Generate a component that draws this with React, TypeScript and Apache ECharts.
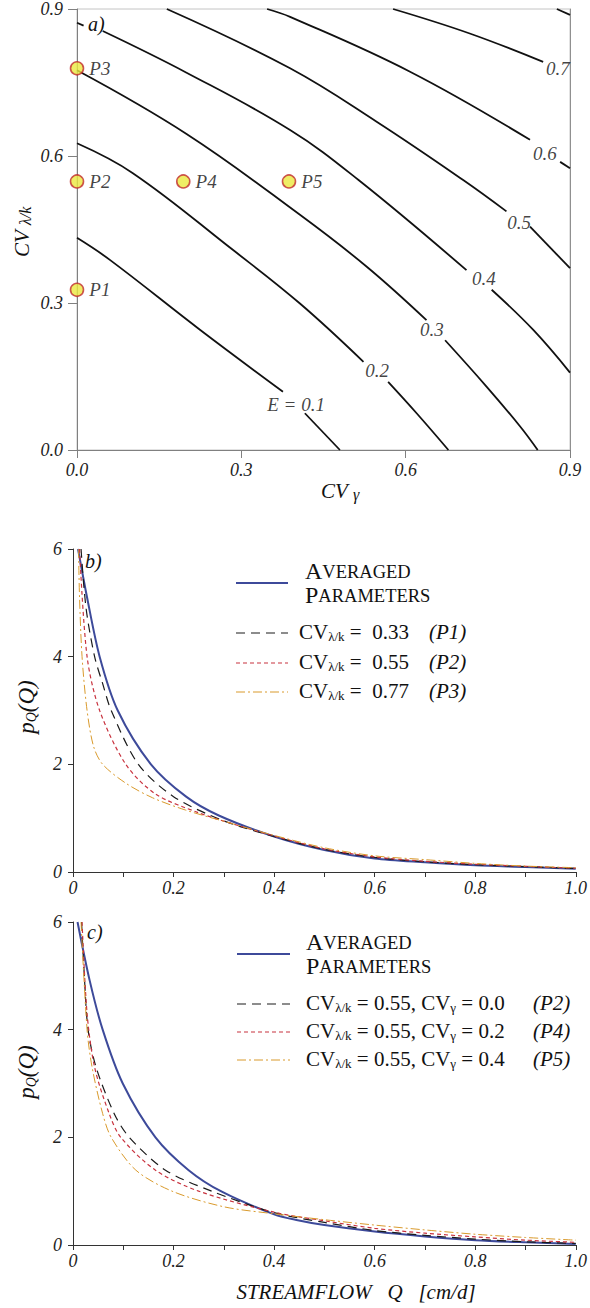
import React, { useEffect, useRef } from 'react';
import * as echarts from 'echarts';

const SERIF = 'Liberation Serif';

// ---------- Panel a: contour lines of E over (CV_gamma, CV_lambda/k) ----------
const contourE01 = [
  [[0, 0.433], [0.06, 0.388], [0.225, 0.245], [0.376, 0.119]],
  [[0.416, 0.075], [0.48, 0]],
];
const contourE02 = [
  [[0, 0.626], [0.102, 0.565], [0.285, 0.408], [0.407, 0.299], [0.523, 0.18]],
  [[0.568, 0.139], [0.62, 0.075], [0.678, 0]],
];
const contourE03 = [
  [[0, 0.775], [0.2, 0.645], [0.407, 0.48], [0.529, 0.374], [0.638, 0.265]],
  [[0.672, 0.224], [0.748, 0.129], [0.809, 0.048], [0.841, 0]],
];
const contourE04 = [
  [[0, 0.872], [0.012, 0.866]],
  [[0.047, 0.855], [0.2, 0.77], [0.389, 0.653], [0.514, 0.551], [0.711, 0.367]],
  [[0.757, 0.327], [0.833, 0.245], [0.9, 0.158]],
];
const contourE05 = [
  [[0.164, 0.9], [0.389, 0.779], [0.547, 0.67], [0.705, 0.551], [0.784, 0.487]],
  [[0.827, 0.456], [0.9, 0.371]],
];
const contourE06 = [
  [[0.347, 0.9], [0.389, 0.884], [0.608, 0.772], [0.827, 0.633]],
  [[0.882, 0.588], [0.9, 0.575]],
];
const contourE07 = [[[0.577, 0.9], [0.717, 0.85], [0.851, 0.792]]];
const contourE08 = [[[0.876, 0.9], [0.9, 0.888]]];

const contourLabelText = ['E = 0.1', '0.2', '0.3', '0.4', '0.5', '0.6', '0.7'];
const contourLabelX = [0.4, 0.548, 0.648, 0.743, 0.807, 0.854, 0.878];
const contourLabelY = [0.092, 0.163, 0.245, 0.349, 0.465, 0.606, 0.778];

const pointNames = ['P1', 'P2', 'P3', 'P4', 'P5'];
const pointCVgamma = [0, 0, 0, 0.194, 0.387];
const pointCVlk = [0.327, 0.548, 0.779, 0.548, 0.548];

// ---------- Panel b: p_Q(Q) for different CV_lambda/k ----------
const bAveraged = [[0.01, 6.0], [0.028, 5.1], [0.053, 4.0], [0.089, 3.0], [0.155, 2.0], [0.225, 1.4], [0.29, 1.05], [0.4, 0.66], [0.5, 0.41], [0.6, 0.25], [0.7, 0.18], [0.8, 0.125], [0.9, 0.094], [1.0, 0.06]];
const bP1 = [[0.016, 6.0], [0.026, 4.9], [0.043, 4.0], [0.059, 3.5], [0.076, 3.0], [0.13, 2.0], [0.2, 1.4], [0.3, 0.95], [0.4, 0.66], [0.5, 0.42], [0.6, 0.27], [0.7, 0.19], [0.8, 0.135], [0.9, 0.1], [1.0, 0.065]];
const bP2 = [[0.013, 6.0], [0.028, 4.0], [0.053, 3.0], [0.105, 2.0], [0.164, 1.45], [0.25, 1.1], [0.33, 0.86], [0.4, 0.67], [0.5, 0.43], [0.6, 0.28], [0.7, 0.2], [0.8, 0.145], [0.9, 0.105], [1.0, 0.07]];
const bP3 = [[0.011, 6.0], [0.013, 5.1], [0.018, 4.0], [0.028, 3.0], [0.041, 2.33], [0.059, 2.0], [0.105, 1.65], [0.158, 1.38], [0.224, 1.15], [0.316, 0.9], [0.4, 0.68], [0.5, 0.45], [0.6, 0.3], [0.7, 0.23], [0.8, 0.16], [0.9, 0.11], [1.0, 0.08]];

// ---------- Panel c: p_Q(Q) for different CV_gamma ----------
const cAveraged = [[0.009, 6.0], [0.033, 4.92], [0.059, 4.0], [0.099, 3.0], [0.164, 2.0], [0.23, 1.39], [0.296, 0.99], [0.4, 0.57], [0.447, 0.46], [0.5, 0.37], [0.6, 0.25], [0.7, 0.16], [0.8, 0.09], [0.9, 0.05], [1.0, 0.02]];
const cP2 = [[0.017, 6.0], [0.023, 4.92], [0.03, 4.0], [0.046, 3.3], [0.082, 2.44], [0.112, 2.0], [0.184, 1.39], [0.276, 1.0], [0.4, 0.6], [0.5, 0.42], [0.6, 0.27], [0.7, 0.18], [0.8, 0.11], [0.9, 0.06], [1.0, 0.03]];
const cP4 = [[0.018, 6.0], [0.028, 4.3], [0.043, 3.3], [0.072, 2.44], [0.095, 2.0], [0.164, 1.39], [0.25, 1.0], [0.4, 0.61], [0.5, 0.45], [0.6, 0.31], [0.7, 0.22], [0.8, 0.15], [0.9, 0.09], [1.0, 0.05]];
const cP5 = [[0.016, 6.0], [0.028, 4.0], [0.038, 3.3], [0.059, 2.44], [0.076, 2.0], [0.125, 1.39], [0.197, 1.0], [0.3, 0.71], [0.4, 0.58], [0.5, 0.47], [0.6, 0.37], [0.7, 0.28], [0.8, 0.2], [0.9, 0.14], [1.0, 0.09]];

const legendB = ['0.33', '0.55', '0.77'];
const legendBTags = ['(P1)', '(P2)', '(P3)'];
const legendCgamma = ['0.0', '0.2', '0.4'];
const legendCTags = ['(P2)', '(P4)', '(P5)'];

const BLUE = '#3d4a9a';
const BLACK = '#1a1a1a';
const RED = '#c8323e';
const ORANGE = '#d99a2c';
const DASH_BLACK = [9, 6];
const DASH_RED = [4, 3];
const DASH_ORANGE = [9, 3, 2, 3];

const tickFont = { fontFamily: SERIF, fontStyle: 'italic', fontSize: 18, color: '#222' };

function richBase() {
  return {
    n: { fontFamily: SERIF, fontSize: 21, lineHeight: 22, fill: '#111', verticalAlign: 'middle' },
    s: { fontFamily: SERIF, fontSize: 13, lineHeight: 4, fill: '#111', verticalAlign: 'bottom' },
    i: { fontFamily: SERIF, fontSize: 21, fontStyle: 'italic', lineHeight: 22, fill: '#111' },
    A: { fontFamily: SERIF, fontSize: 24, lineHeight: 20, fill: '#111', verticalAlign: 'middle' },
    m: { fontFamily: SERIF, fontSize: 18.5, lineHeight: 16, fill: '#111', verticalAlign: 'bottom' },
  };
}

function text(x: number, y: number, t: string, extra: any = {}) {
  return {
    type: 'text',
    x,
    y,
    silent: true,
    style: {
      text: t,
      rich: richBase(),
      fontFamily: SERIF,
      fontSize: 21,
      fill: '#111',
      align: 'left',
      verticalAlign: 'middle',
      ...extra,
    },
  };
}

function sample(x1: number, x2: number, y: number, color: string, width: number, dash: number[] | null) {
  return {
    type: 'line',
    silent: true,
    shape: { x1, y1: y, x2, y2: y },
    style: { stroke: color, lineWidth: width, lineDash: dash || undefined },
  };
}

export default function App() {
  const ref = useRef<HTMLDivElement>(null);
  useEffect(() => {
    document.body.style.margin = '0';
    const chart = echarts.init(ref.current!, undefined, { renderer: 'svg' });

    const series: any[] = [];
    [contourE01, contourE02, contourE03, contourE04, contourE05, contourE06, contourE07, contourE08].forEach((segs) => {
      segs.forEach((seg) => {
        series.push({
          type: 'line', xAxisIndex: 0, yAxisIndex: 0, data: seg, smooth: 0.4, symbol: 'none',
          lineStyle: { color: '#111', width: 1.8 }, silent: true, z: 2,
        });
      });
    });
    series.push({
      type: 'scatter', xAxisIndex: 0, yAxisIndex: 0, silent: true, z: 3,
      data: contourLabelText.map((t, i) => [contourLabelX[i], contourLabelY[i], t]),
      symbolSize: 1, itemStyle: { color: 'rgba(0,0,0,0)' },
      label: { show: true, position: 'inside', formatter: (p: any) => p.data[2], fontFamily: SERIF, fontStyle: 'italic', fontSize: 19, color: '#111' },
    });
    series.push({
      type: 'scatter', xAxisIndex: 0, yAxisIndex: 0, silent: true, clip: false, z: 5,
      data: pointNames.map((n, i) => [pointCVgamma[i], pointCVlk[i], n]),
      symbolSize: 13,
      itemStyle: { color: '#ebe83e', borderColor: '#c02a2c', borderWidth: 1.6 },
      label: { show: true, position: 'right', distance: 5, formatter: (p: any) => p.data[2], fontFamily: SERIF, fontStyle: 'italic', fontSize: 19, color: '#111' },
    });

    const curve = (data: number[][], idx: number, color: string, width: number, dash: any) => ({
      type: 'line', xAxisIndex: idx, yAxisIndex: idx, data, smooth: 0.3, symbol: 'none', silent: true,
      lineStyle: { color, width, type: dash },
    });
    series.push(curve(bAveraged, 1, BLUE, 2, 'solid'));
    series.push(curve(bP1, 1, BLACK, 1.2, DASH_BLACK));
    series.push(curve(bP2, 1, RED, 1.2, DASH_RED));
    series.push(curve(bP3, 1, ORANGE, 1, DASH_ORANGE));
    series.push(curve(cAveraged, 2, BLUE, 2, 'solid'));
    series.push(curve(cP2, 2, BLACK, 1.2, DASH_BLACK));
    series.push(curve(cP4, 2, RED, 1.2, DASH_RED));
    series.push(curve(cP5, 2, ORANGE, 1, DASH_ORANGE));

    const qFormatter = (v: number) => {
      const k = Math.round(v * 10);
      if (k % 2) return '';
      return k === 0 ? '0' : (k / 10).toFixed(1);
    };

    const pAxisX = (gi: number) => ({
      type: 'value', gridIndex: gi, min: 0, max: 1, interval: 0.1,
      axisLine: { show: true, lineStyle: { color: '#333', width: 1 } },
      axisTick: { show: true, length: 5, lineStyle: { color: '#333' } },
      axisLabel: { ...tickFont, margin: 7, formatter: qFormatter },
      splitLine: { show: false },
    });
    const pAxisY = (gi: number) => ({
      type: 'value', gridIndex: gi, min: 0, max: 6, interval: 2,
      axisLine: { show: true, lineStyle: { color: '#333', width: 1 } },
      axisTick: { show: true, length: 5, lineStyle: { color: '#333' } },
      axisLabel: { ...tickFont, margin: 11 },
      splitLine: { show: false },
    });

    const graphic: any[] = [];
    graphic.push(text(88, 24, 'a)', { fontStyle: 'italic', fontSize: 20 }));
    graphic.push(text(85, 561, 'b)', { fontStyle: 'italic', fontSize: 20 }));
    graphic.push(text(87, 932, 'c)', { fontStyle: 'italic', fontSize: 20 }));

    graphic.push({
      type: 'text', x: 22, y: 232, rotation: Math.PI / 2, silent: true,
      style: {
        text: '{n|CV }{t|λ/k}', align: 'center', verticalAlign: 'middle',
        rich: {
          n: { fontFamily: SERIF, fontStyle: 'italic', fontSize: 21, lineHeight: 22, fill: '#111' },
          t: { fontFamily: SERIF, fontStyle: 'italic', fontSize: 16, lineHeight: 16, fill: '#111', verticalAlign: 'bottom' },
        },
      },
    });
    graphic.push({
      type: 'text', x: 340, y: 491, silent: true,
      style: {
        text: '{n|CV }{t|γ}', align: 'center', verticalAlign: 'middle',
        rich: {
          n: { fontFamily: SERIF, fontStyle: 'italic', fontSize: 21, lineHeight: 22, fill: '#111' },
          t: { fontFamily: SERIF, fontStyle: 'italic', fontSize: 16, lineHeight: 12, fill: '#111', verticalAlign: 'bottom' },
        },
      },
    });
    const pqName = (y: number) => ({
      type: 'text', x: 26, y, rotation: Math.PI / 2, silent: true,
      style: {
        text: '{n|p}{t|Q}{n|(Q)}', align: 'center', verticalAlign: 'middle',
        rich: {
          n: { fontFamily: SERIF, fontStyle: 'italic', fontSize: 23, lineHeight: 24, fill: '#111' },
          t: { fontFamily: SERIF, fontStyle: 'italic', fontSize: 14, lineHeight: 6, fill: '#111', verticalAlign: 'bottom' },
        },
      },
    });
    graphic.push(pqName(707));
    graphic.push(pqName(1072));
    graphic.push(text(356, 1292, 'STREAMFLOW   Q   [cm/d]', { fontStyle: 'italic', fontSize: 21, align: 'center' }));

    // legend b
    graphic.push(sample(236, 288, 583, BLUE, 2, null));
    graphic.push(text(305, 571, '{A|A}{m|VERAGED}'));
    graphic.push(text(305, 595, '{A|P}{m|ARAMETERS}'));
    const bRowY = [632, 662, 691];
    const bSample = [[BLACK, 1.2, DASH_BLACK], [RED, 1.2, DASH_RED], [ORANGE, 1, DASH_ORANGE]] as any[];
    legendB.forEach((v, i) => {
      graphic.push(sample(236, 288, bRowY[i] + 1, bSample[i][0], bSample[i][1], bSample[i][2]));
      graphic.push(text(299, bRowY[i], `{n|CV}{s|λ/k}{n| =  ${v}}`));
      graphic.push(text(429, bRowY[i], legendBTags[i], { fontStyle: 'italic' }));
    });

    // legend c
    graphic.push(sample(237, 290, 954, BLUE, 2, null));
    graphic.push(text(306, 942, '{A|A}{m|VERAGED}'));
    graphic.push(text(306, 966, '{A|P}{m|ARAMETERS}'));
    const cRowY = [1003, 1031, 1059];
    legendCgamma.forEach((v, i) => {
      graphic.push(sample(237, 290, cRowY[i] + 1, bSample[i][0], bSample[i][1], bSample[i][2]));
      graphic.push(text(306, cRowY[i], `{n|CV}{s|λ/k}{n| = 0.55, CV}{s|γ}{n| = ${v}}`));
      graphic.push(text(533, cRowY[i], legendCTags[i], { fontStyle: 'italic' }));
    });

    chart.setOption({
      animation: false,
      backgroundColor: '#fff',
      textStyle: { fontFamily: SERIF },
      grid: [
        { left: 77, top: 9, width: 493, height: 441, show: true, borderColor: '#c4c4c4', borderWidth: 1, containLabel: false },
        { left: 73, top: 549, width: 507, height: 323, containLabel: false },
        { left: 73, top: 922, width: 507, height: 323, containLabel: false },
      ],
      xAxis: [
        {
          type: 'value', gridIndex: 0, min: 0, max: 0.9, interval: 0.3,
          axisLine: { show: true, lineStyle: { color: '#808080' } },
          axisTick: { show: true, length: 8, lineStyle: { color: '#808080' } },
          axisLabel: { ...tickFont, margin: 11, formatter: (v: number) => v.toFixed(1) },
          splitLine: { show: false },
        },
        pAxisX(1),
        pAxisX(2),
      ],
      yAxis: [
        {
          type: 'value', gridIndex: 0, min: 0, max: 0.9, interval: 0.3,
          axisLine: { show: true, lineStyle: { color: '#808080' } },
          axisTick: { show: true, length: 9, lineStyle: { color: '#808080' } },
          axisLabel: { ...tickFont, margin: 14, formatter: (v: number) => v.toFixed(1) },
          splitLine: { show: false },
        },
        pAxisY(1),
        pAxisY(2),
        {
          type: 'value', gridIndex: 0, min: 0, max: 0.9, interval: 0.3, position: 'right',
          axisLine: { show: true, lineStyle: { color: '#909090' } },
          axisTick: { show: false }, axisLabel: { show: false }, splitLine: { show: false },
        },
      ],
      series,
      graphic,
    });
    return () => chart.dispose();
  }, []);
  return <div ref={ref} style={{ width: 590, height: 1308 }} />;
}
